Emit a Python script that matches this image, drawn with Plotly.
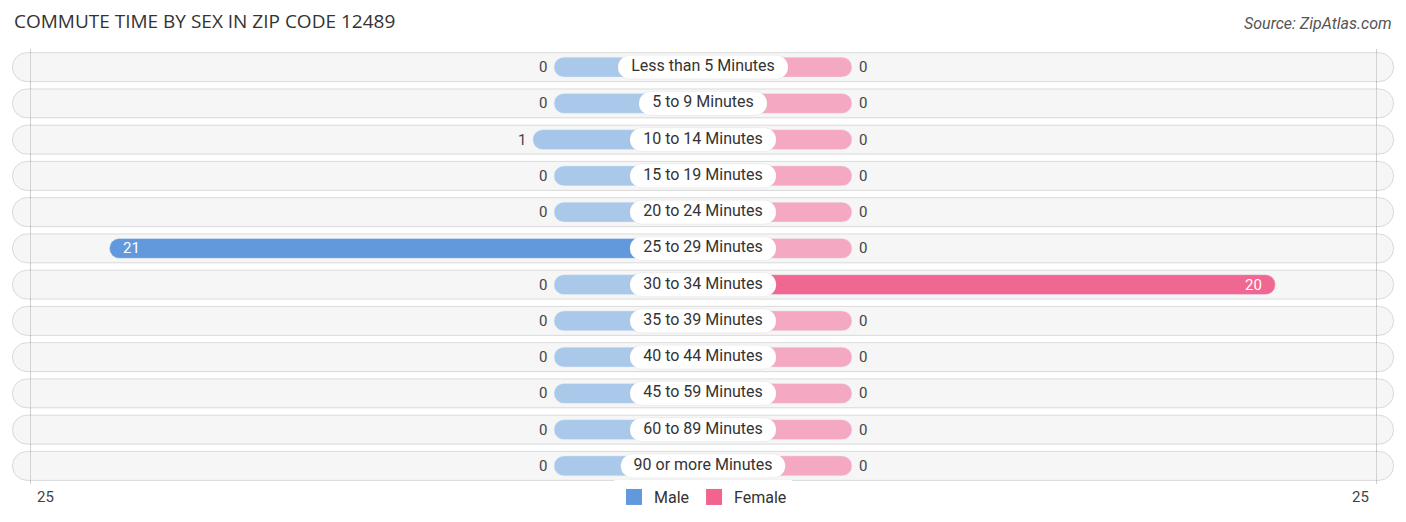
import plotly.graph_objects as go

# ------------------------------------------------------------------
# data
# ------------------------------------------------------------------
categories = ["Less than 5 Minutes", "5 to 9 Minutes", "10 to 14 Minutes",
              "15 to 19 Minutes", "20 to 24 Minutes", "25 to 29 Minutes",
              "30 to 34 Minutes", "35 to 39 Minutes", "40 to 44 Minutes",
              "45 to 59 Minutes", "60 to 89 Minutes", "90 or more Minutes"]
male = [0, 0, 1, 0, 0, 21, 0, 0, 0, 0, 0, 0]
female = [0, 0, 0, 0, 0, 0, 20, 0, 0, 0, 0, 0]
axis_max = 25

# ------------------------------------------------------------------
# geometry / style
# ------------------------------------------------------------------
W, H = 1406, 522
ML, MR, MT, MB = 12, 12, 49, 38
PXU = 21.17                                 # pixels per unit
XR = (W - ML - MR) / 2 / PXU                # half range of the x axis
OFF = 149 / PXU                             # room kept for the centre label
GRID = 673 / PXU                            # where the faint end lines sit
FONT = "Roboto"

MALE_LIGHT, MALE_DARK = (169, 200, 234), (98, 153, 220)
FEM_LIGHT, FEM_DARK = (245, 168, 193), (240, 100, 143)
vmax = max(male + female)


def shade(lo, hi, v):
    t = v / vmax if vmax else 0
    return "rgb(%d,%d,%d)" % tuple(round(a + (b - a) * t) for a, b in zip(lo, hi))


# rough Roboto advance widths (16px) to size the white label pills
CW = {" ": 4.0, "M": 13.7, "i": 3.8, "t": 5.2, "r": 5.4, "m": 13.7, "L": 8.4}


def text_px(s):
    return sum(CW.get(c, 9.0 if c.isdigit() else 8.5) for c in s)


label_w = [(text_px(c) + 28) / PXU for c in categories]

fig = go.Figure()

# --- row backgrounds ----------------------------------------------
edge = XR - 0.4 / PXU
fig.add_trace(go.Bar(
    y=categories, x=[2 * edge] * len(categories), base=-edge,
    orientation="h", width=0.8,
    marker=dict(color="rgba(222,222,222,0.28)", cornerradius=15,
                line=dict(color="rgba(0,0,0,0.13)", width=1)),
    hoverinfo="skip", showlegend=False,
))

# --- male / female bars -------------------------------------------
fig.add_trace(go.Bar(
    y=categories, x=[-(OFF + v) for v in male], base=0, orientation="h",
    width=0.55,
    marker=dict(color=[shade(MALE_LIGHT, MALE_DARK, v) for v in male],
                cornerradius=10),
    showlegend=False, name="Male",
))
fig.add_trace(go.Bar(
    y=categories, x=[OFF + v for v in female], base=0, orientation="h",
    width=0.55,
    marker=dict(color=[shade(FEM_LIGHT, FEM_DARK, v) for v in female],
                cornerradius=10),
    showlegend=False, name="Female",
))

# --- centre label pills -------------------------------------------
fig.add_trace(go.Bar(
    y=categories, x=label_w, base=[-w / 2 for w in label_w], orientation="h",
    width=0.66,
    marker=dict(color="white", cornerradius=12,
                line=dict(color="rgba(0,0,0,0.05)", width=1)),
    hoverinfo="skip", showlegend=False,
))
fig.add_trace(go.Scatter(
    y=categories, x=[0] * len(categories), mode="text", text=categories,
    textfont=dict(family=FONT, size=16, color="#333"),
    hoverinfo="skip", showlegend=False,
))

# --- value labels -------------------------------------------------
for cat, m, f in zip(categories, male, female):
    inside = m >= 5
    fig.add_annotation(
        x=-(OFF + m), y=cat, text=str(m), showarrow=False,
        xanchor="left" if inside else "right", xshift=12 if inside else -5,
        font=dict(family=FONT, size=15, color="white" if inside else "#444"),
    )
    inside = f >= 5
    fig.add_annotation(
        x=OFF + f, y=cat, text=str(f), showarrow=False,
        xanchor="right" if inside else "left", xshift=-11 if inside else 5,
        font=dict(family=FONT, size=15, color="white" if inside else "#444"),
    )

# --- axis end labels ----------------------------------------------
for sgn in (-1, 1):
    fig.add_annotation(
        x=sgn * GRID, y=0, yref="paper", yanchor="middle",
        yshift=-13, text=str(axis_max), showarrow=False,
        xanchor="left" if sgn < 0 else "right", xshift=5 * -sgn,
        font=dict(family=FONT, size=15, color="#444"),
    )

# --- legend dummies -----------------------------------------------
for name, col in (("Male", MALE_DARK), ("Female", FEM_DARK)):
    fig.add_trace(go.Scatter(
        x=[None], y=[None], mode="markers", name=name,
        marker=dict(symbol="square", size=16, color="rgb(%d,%d,%d)" % col),
    ))

# --- title / source -----------------------------------------------
fig.add_annotation(
    x=0, y=1, xref="paper", yref="paper", xanchor="left", yanchor="middle",
    yshift=28, xshift=0, text="COMMUTE TIME BY SEX IN ZIP CODE 12489",
    showarrow=False, font=dict(family="Open Sans", size=19, color="#333"),
)
fig.add_annotation(
    x=1, y=1, xref="paper", yref="paper", xanchor="right", yanchor="middle",
    yshift=26, text="<i>Source: ZipAtlas.com</i>",
    showarrow=False, font=dict(family=FONT, size=16, color="#555"),
)

n = len(categories)
fig.update_layout(
    width=W, height=H,
    margin=dict(l=ML, r=MR, t=MT, b=MB, autoexpand=False),
    barmode="overlay",
    plot_bgcolor="white", paper_bgcolor="white",
    xaxis=dict(range=[-XR, XR], showticklabels=False, zeroline=False,
               tickvals=[-GRID, GRID],
               showgrid=True, gridcolor="#cfcfcf", gridwidth=1, fixedrange=True),
    yaxis=dict(range=[n - 0.5, -0.5], showticklabels=False, showgrid=False,
               zeroline=False, fixedrange=True),
    legend=dict(orientation="h", x=0.5, xanchor="center", y=-0.03,
                yanchor="middle", font=dict(family=FONT, size=16, color="#333"),
                itemclick=False),
    showlegend=True,
)

# page has an 8px body margin by default; drop it so the figure sits at 0,0
fig.write_html("out.html", config={"displayModeBar": False},
               post_script="document.body.style.margin='0';")
